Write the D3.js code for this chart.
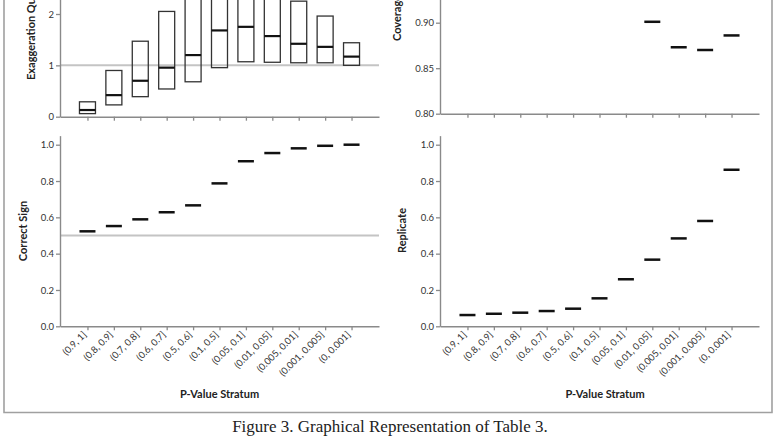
<!DOCTYPE html>
<html><head><meta charset="utf-8">
<script src="https://cdn.jsdelivr.net/npm/d3@7"></script>
<style>
html,body{margin:0;padding:0;background:#fff;}
svg{display:block;}
</style></head>
<body>
<svg id="c" width="780" height="440"></svg>
<script>
const strata = ["(0.9, 1]","(0.8, 0.9]","(0.7, 0.8]","(0.6, 0.7]","(0.5, 0.6]","(0.1, 0.5]","(0.05, 0.1]","(0.01, 0.05]","(0.005, 0.01]","(0.001, 0.005]","(0, 0.001]"];
const exagLo  = [0.06, 0.23, 0.39, 0.54, 0.68, 0.955, 1.07, 1.06, 1.05, 1.05, 1.00];
const exagMed = [0.13, 0.42, 0.70, 0.955, 1.20, 1.68, 1.75, 1.57, 1.42, 1.36, 1.17];
const exagHi  = [0.29, 0.90, 1.47, 2.05, 3.00, 2.90, 2.70, 2.45, 2.25, 1.96, 1.44];
const coverage    = [0.99, 0.99, 0.98, 0.98, 0.98, 0.96, 0.94, 0.901, 0.873, 0.870, 0.886];
const correctSign = [0.523, 0.552, 0.589, 0.628, 0.666, 0.787, 0.909, 0.954, 0.980, 0.994, 1.0];
const replicate   = [0.062, 0.069, 0.075, 0.084, 0.097, 0.154, 0.259, 0.367, 0.484, 0.580, 0.862];
const exagTicks = [0, 1, 2, 3];
const covTicks = [0.80, 0.85, 0.90, 0.95, 1.00];
const propTicks = [0, 0.2, 0.4, 0.6, 0.8, 1.0];

const svg = d3.select("#c");
const FONT = "Lato, 'Open Sans', sans-serif";
const AX = "#8a8a8a";

// frame
svg.append("path").attr("d","M4,-5 V412.5 H772 V-5").attr("fill","none").attr("stroke","#a0a0a0").attr("stroke-width",1.6);

function styleAxis(g){
  g.selectAll(".domain").attr("stroke",AX).attr("stroke-width",1.4);
  g.selectAll(".tick line").attr("stroke",AX).attr("stroke-width",1.3);
  g.selectAll(".tick text").attr("fill","#333").attr("font-family",FONT).attr("font-size","9.5px");
}

function panel(o){
  const x = d3.scalePoint().domain(strata).range([o.x0, o.x1]).padding(1.04);
  const y = d3.scaleLinear().domain(o.ydom).range(o.yrange);
  if (o.ref !== undefined){
    svg.append("line").attr("x1",o.x0).attr("x2",o.x1).attr("y1",y(o.ref)).attr("y2",y(o.ref))
      .attr("stroke","#c4c4c4").attr("stroke-width",2);
  }
  const ya = svg.append("g").attr("transform",`translate(${o.x0},0)`)
    .call(d3.axisLeft(y).tickValues(o.yticks).tickFormat(d3.format(o.fmt)).tickSize(4).tickSizeOuter(0).tickPadding(2));
  styleAxis(ya);
  const xa = svg.append("g").attr("transform",`translate(0,${o.yrange[0]})`)
    .call(d3.axisBottom(x).tickSize(4).tickSizeOuter(0).tickFormat(o.xlabels ? d=>d : ()=>""));
  styleAxis(xa);
  if (o.xlabels){
    xa.selectAll(".tick text").attr("text-anchor","end").attr("dy",null).attr("y",null)
      .attr("transform","translate(-1,9) rotate(-45)").attr("font-size","9.5px");
    svg.append("text").attr("x",o.xtitle).attr("y",398).attr("text-anchor","middle")
      .attr("font-family",FONT).attr("font-weight","bold").attr("font-size","11px").attr("fill","#222")
      .text("P-Value Stratum");
  }
  svg.append("text").attr("transform",`translate(${o.lx},${o.ly}) rotate(-90)`)
    .attr("text-anchor",o.lanchor).attr("font-family",FONT).attr("font-weight","bold")
    .attr("font-size","11px").attr("fill","#222").text(o.label);
  return {x,y};
}

const W = 16;
// top-left: exaggeration
{
  const {x,y} = panel({x0:60,x1:379,ydom:[0,3],yrange:[116.7,116.7-3*51.35],yticks:exagTicks,fmt:"d",ref:1,
    label:"Exaggeration Quantiles",lx:35,ly:80,lanchor:"start"});
  const g = svg.append("g");
  strata.forEach((s,i)=>{
    g.append("rect").attr("x",x(s)-W/2).attr("width",W).attr("y",y(exagHi[i])).attr("height",y(exagLo[i])-y(exagHi[i]))
      .attr("fill","none").attr("stroke","#333").attr("stroke-width",1.3);
    g.append("line").attr("x1",x(s)-W/2).attr("x2",x(s)+W/2).attr("y1",y(exagMed[i])).attr("y2",y(exagMed[i]))
      .attr("stroke","#111").attr("stroke-width",2.2);
  });
}
// top-right: coverage
{
  const {x,y} = panel({x0:440,x1:759,ydom:[0.8,1.0],yrange:[113.7,113.7-0.2*910],yticks:covTicks,fmt:".2f",
    label:"Coverage",lx:401,ly:41,lanchor:"start"});
  svg.append("g").selectAll("line").data(strata).join("line")
    .attr("x1",d=>x(d)-W/2).attr("x2",d=>x(d)+W/2)
    .attr("y1",(d,i)=>y(coverage[i])).attr("y2",(d,i)=>y(coverage[i]))
    .attr("stroke","#111").attr("stroke-width",2.5);
}
// bottom-left: correct sign
{
  const {x,y} = panel({x0:60,x1:379,ydom:[0,1.05],yrange:[326.3,326.3-1.05*181.6],yticks:propTicks,fmt:".1f",ref:0.5,
    label:"Correct Sign",lx:27,ly:231,lanchor:"middle",xlabels:true,xtitle:219.5});
  svg.append("g").selectAll("line").data(strata).join("line")
    .attr("x1",d=>x(d)-W/2).attr("x2",d=>x(d)+W/2)
    .attr("y1",(d,i)=>y(correctSign[i])).attr("y2",(d,i)=>y(correctSign[i]))
    .attr("stroke","#111").attr("stroke-width",2.5);
}
// bottom-right: replicate
{
  const {x,y} = panel({x0:440,x1:759,ydom:[0,1.05],yrange:[326.3,326.3-1.05*181.6],yticks:propTicks,fmt:".1f",
    label:"Replicate",lx:406,ly:230.5,lanchor:"middle",xlabels:true,xtitle:605});
  svg.append("g").selectAll("line").data(strata).join("line")
    .attr("x1",d=>x(d)-W/2).attr("x2",d=>x(d)+W/2)
    .attr("y1",(d,i)=>y(replicate[i])).attr("y2",(d,i)=>y(replicate[i]))
    .attr("stroke","#111").attr("stroke-width",2.5);
}
// caption
svg.append("text").attr("x",390).attr("y",432).attr("text-anchor","middle")
  .attr("font-family","'Liberation Serif', 'DejaVu Serif', serif").attr("font-size","17px").attr("fill","#222")
  .text("Figure 3. Graphical Representation of Table 3.");
</script>
</body></html>
